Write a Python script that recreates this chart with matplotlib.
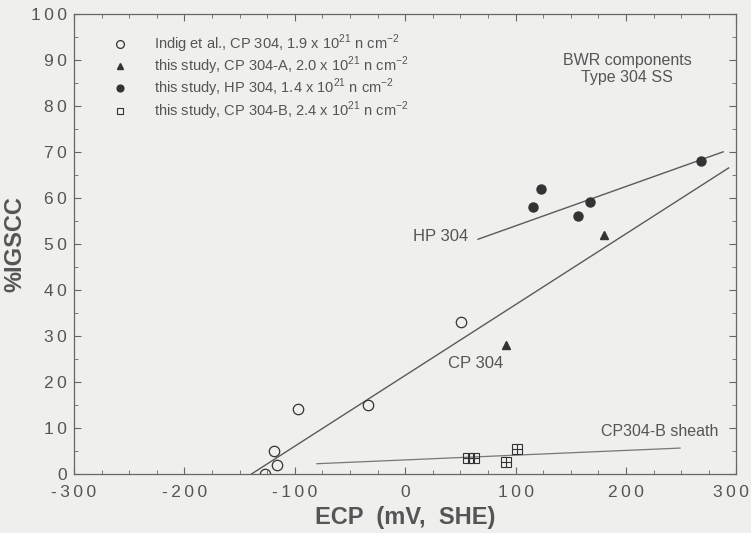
import numpy as np
import matplotlib.pyplot as plt
import matplotlib.transforms as mtransforms
from matplotlib.ticker import MultipleLocator, FuncFormatter

# Data (ECP in mV SHE, %IGSCC)
indig_ecp = [-127, -116, -119, -97, -34, 51]
indig_igscc = [0, 2, 5, 14, 15, 33]

cpa_ecp = [91, 180]
cpa_igscc = [28, 52]

hp_ecp = [116, 123, 157, 167, 268]
hp_igscc = [58, 62, 56, 59, 68]

cpb_ecp = [57, 62, 91, 101]
cpb_igscc = [3.5, 3.5, 2.5, 5.5]

# fitted trend lines (end points)
fit_cp_x = [-139, 293]
fit_cp_y = [0, 66.5]
fit_hp_x = [66, 288]
fit_hp_y = [51, 70]
fit_cpb_x = [-80, 249]
fit_cpb_y = [2.2, 5.6]

legend_labels = [
    r'Indig et al., CP 304, 1.9 x 10$^{21}$ n cm$^{-2}$',
    r'this study, CP 304-A, 2.0 x 10$^{21}$ n cm$^{-2}$',
    r'this study, HP 304, 1.4 x 10$^{21}$ n cm$^{-2}$',
    r'this study, CP 304-B, 2.4 x 10$^{21}$ n cm$^{-2}$',
]

plt.rcParams['font.family'] = ['Liberation Sans', 'DejaVu Sans']
plt.rcParams['mathtext.fontset'] = 'custom'
plt.rcParams['mathtext.rm'] = 'Liberation Sans'

bg = '#efefed'
ink = '#333333'
line_c = '#5a5a5a'
txt_c = '#555555'


def spaced(v, pos):
    # the scan's tick labels have very loose letter spacing
    s = '%d' % v
    return '\u2009'.join(s)


fig = plt.figure(figsize=(7.51, 5.33), dpi=100, facecolor=bg)
ax = fig.add_axes([0.0985, 0.111, 0.882, 0.863], facecolor=bg)

# trend lines
ax.plot(fit_cp_x, fit_cp_y, color=line_c, lw=1.0)
ax.plot(fit_hp_x, fit_hp_y, color=line_c, lw=1.0)
ax.plot(fit_cpb_x, fit_cpb_y, color='#777777', lw=0.9)

# data series
h1, = ax.plot(indig_ecp, indig_igscc, 'o', ms=7.5, mfc='none', mec=ink, mew=0.9, ls='none')
h2, = ax.plot(cpa_ecp, cpa_igscc, '^', ms=5.5, color=ink, ls='none')
h3, = ax.plot(hp_ecp, hp_igscc, 'o', ms=6.5, color=ink, ls='none')
h4, = ax.plot(cpb_ecp, cpb_igscc, marker='s', ms=6.5, mfc='none', mec=ink, mew=0.8, ls='none')
ax.plot(cpb_ecp, cpb_igscc, marker='+', ms=6.5, color=ink, mew=0.8, ls='none')

ax.legend([h1, h2, h3, h4], legend_labels, loc='upper left',
          bbox_to_anchor=(0.048, 0.972), frameon=False, fontsize=10.5,
          handlelength=1.2, handletextpad=1.7, labelspacing=0.0,
          labelcolor=txt_c, markerscale=0.75, borderaxespad=0)

# annotations
ax.text(7, 51.5, 'HP 304', fontsize=12, color=txt_c, ha='left', va='center')
ax.text(64, 24, 'CP 304', fontsize=12, color=txt_c, ha='center', va='center')
ax.text(284, 9.1, 'CP304-B sheath', fontsize=11.5, color=txt_c, ha='right', va='center')
ax.text(201, 88, 'BWR components\nType 304 SS', fontsize=11.5, color=txt_c,
        ha='center', va='center', linespacing=1.15)

ax.set_xlim(-300, 300)
ax.set_ylim(0, 100)
ax.xaxis.set_major_locator(MultipleLocator(100))
ax.xaxis.set_minor_locator(MultipleLocator(25))
ax.yaxis.set_major_locator(MultipleLocator(10))
ax.yaxis.set_minor_locator(MultipleLocator(5))
ax.xaxis.set_major_formatter(FuncFormatter(spaced))
ax.yaxis.set_major_formatter(FuncFormatter(spaced))
ax.tick_params(which='both', direction='in', top=True, right=True, color='#666666')
ax.tick_params(which='major', length=5, labelsize=12.5, labelcolor=txt_c)
ax.tick_params(axis='x', which='major', pad=8)
ax.tick_params(axis='y', which='major', pad=5)
ax.tick_params(which='minor', length=3)
for s in ax.spines.values():
    s.set_color('#666666')
    s.set_linewidth(0.9)

ax.set_xlabel('ECP  (mV,  SHE)', fontsize=17, fontweight='bold', color=txt_c, labelpad=4)
ax.set_ylabel('%IGSCC', fontsize=17, fontweight='bold', color=txt_c, labelpad=3)

# nudge the last x label in so it stays inside the figure
fig.canvas.draw()
last = ax.xaxis.get_major_ticks()[-1].label1
for t in ax.xaxis.get_major_ticks():
    if t.get_loc() == 300:
        last = t.label1
last.set_transform(last.get_transform() +
                   mtransforms.ScaledTranslation(-4 / 72, 0, fig.dpi_scale_trans))

fig.savefig('out.png', dpi=100, facecolor=bg)
